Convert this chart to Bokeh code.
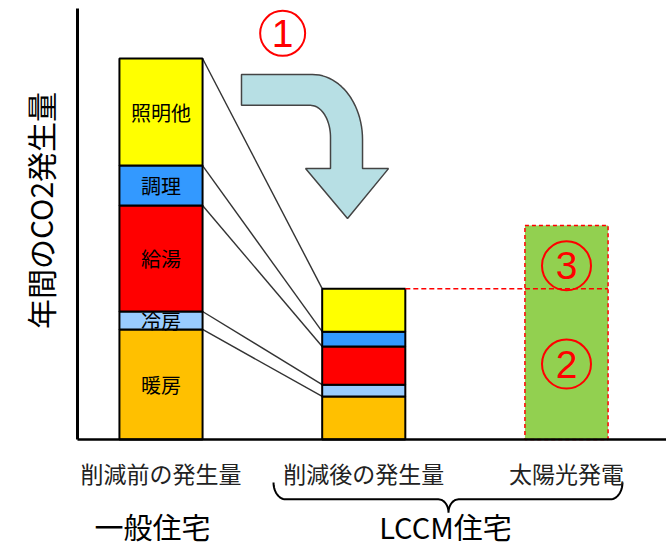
import numpy as np
from bokeh.plotting import figure
from bokeh.models import Range1d, FixedTicker, ColumnDataSource
from bokeh.core.properties import value
from bokeh.embed import file_html
from bokeh.resources import INLINE

# ---------------- data ----------------
bar_labels = ["削減前の発生量", "削減後の発生量", "太陽光発電"]
uses = ["暖房", "冷房", "給湯", "調理", "照明他"]
before = [28.9, 4.7, 27.8, 10.5, 28.1]     # 一般住宅 (relative CO2)
after = [11.3, 3.1, 10.0, 3.9, 11.3]       # LCCM住宅 after reduction
solar = [56.2]                              # 太陽光発電
use_colors = ["#ffc000", "#99ccff", "#ff0000", "#3399ff", "#ffff00"]
group_labels = ["一般住宅", "LCCM住宅"]
y_title = "年間のCO2発生量"
circled = ["1", "2", "3"]

JP = "Noto Sans CJK JP"
W = 0.41

p = figure(width=666, height=550, x_range=Range1d(0.2084, 3.4932),
           y_range=Range1d(-29.13, 115.22), output_backend="svg",
           toolbar_location=None, min_border=0)
p.outline_line_color = None
p.grid.visible = False
p.background_fill_color = "white"
p.border_fill_color = "white"

# axes
p.xaxis.fixed_location = 0
p.xaxis.bounds = (0.588, 3.4932)
p.xaxis.ticker = FixedTicker(ticks=[1, 2, 3])
p.xaxis.major_label_overrides = {1: bar_labels[0], 2: bar_labels[1], 3: bar_labels[2]}
p.xaxis.major_tick_line_color = None
p.xaxis.minor_tick_line_color = None
p.xaxis.axis_line_width = 2.5
p.xaxis.axis_line_color = "black"
p.xaxis.major_label_text_font = JP
p.xaxis.major_label_text_font_size = "23px"
p.xaxis.major_label_text_color = "#222222"
p.xaxis.major_label_standoff = 10

p.yaxis.fixed_location = 0.588
p.yaxis.bounds = (0, 113.12)
p.yaxis.ticker = FixedTicker(ticks=[])
p.yaxis.major_tick_line_color = None
p.yaxis.minor_tick_line_color = None
p.yaxis.axis_line_width = 3
p.yaxis.axis_line_color = "black"

# connecting lines
cb = np.cumsum(before)
ca = np.cumsum(after)
p.segment(x0=[1 + W / 2] * 5, y0=list(cb), x1=[2 - W / 2] * 5, y1=list(ca),
          line_color="#333333", line_width=1.4)

# stacked bars
src = {"x": [1, 2]}
for u, b, a in zip(uses, before, after):
    src[u] = [b, a]
p.vbar_stack(uses, x="x", width=W, fill_color=use_colors, line_color="black",
             line_width=2, source=ColumnDataSource(src))

# labels in left bar
mids = list(cb - np.array(before) / 2)
p.text(x=[1] * 5, y=mids, text=uses, text_font=value(JP), text_font_size="20px",
       text_align="center", text_baseline="middle", text_color="black")

# solar bar
total_after = float(ca[-1])
p.vbar(x=[3], top=solar, width=W, fill_color="#92d050", line_color="red",
       line_dash="4 3", line_width=1.5)
p.segment(x0=[2 + W / 2, 3 - W / 2], y0=[total_after] * 2,
          x1=[3 - W / 2, 3 + W / 2], y1=[total_after] * 2,
          line_color="red", line_dash="5 3", line_width=1.5)

# curved arrow
t = np.linspace(np.pi / 2, 0, 24)
ox = 1.747 + 0.247 * np.cos(t)
oy = 78.7 + 17.1 * np.sin(t)
t2 = np.linspace(0, np.pi / 2, 24)
ix = 1.737 + 0.099 * np.cos(t2)
iy = 79.3 + 8.4 * np.sin(t2)
ax = [1.397] + list(ox) + [1.994, 2.122, 1.920, 1.713, 1.836] + list(ix) + [1.397]
ay = [95.8] + list(oy) + [71.1, 71.1, 58.0, 71.1, 71.1] + list(iy) + [87.7]
p.patch(ax, ay, fill_color="#b7dfe4", line_color="#444444", line_width=1.5)

# circled numbers
cx = [1.60, 3.0, 3.0]
cy = [106.6, total_after / 2, 45.6]
p.scatter(x=cx, y=cy, size=[45, 49, 49], marker="circle", fill_alpha=0,
          line_color="red", line_width=2)
p.text(x=cx, y=cy, text=circled, text_font=value("Liberation Sans"),
       text_font_size="39px", text_align="center", text_baseline="middle",
       text_color="red")

# y title
p.text(x=[0.401], y=[60.1], text=[y_title], angle=np.pi / 2, text_font=value(JP),
       text_font_size="30px", text_align="center", text_baseline="middle",
       text_color="black")

# brace under LCCM bars
def arc(cx0, cy0, rx, ry, a0, a1, n=16):
    tt = np.linspace(a0, a1, n)
    return list(cx0 + rx * np.cos(tt)), list(cy0 + ry * np.sin(tt))

bx, by = [], []
for seg in [arc(1.615, -11.3, 0.06, 4.4, np.pi, 1.5 * np.pi),
            arc(2.368, -19.2, 0.05, 3.5, 0.5 * np.pi, 0),
            arc(2.468, -19.2, 0.05, 3.5, np.pi, 0.5 * np.pi),
            arc(3.216, -11.3, 0.06, 4.4, 1.5 * np.pi, 2 * np.pi)]:
    bx += seg[0]
    by += seg[1]
p.line(bx, by, line_color="black", line_width=2)

# group labels
p.text(x=[0.958, 2.403], y=[-22.8, -22.8], text=group_labels, text_font=value(JP),
       text_font_size="29px", text_align="center", text_baseline="middle",
       text_color="black")

open("out.html", "w").write(file_html(p, INLINE))
